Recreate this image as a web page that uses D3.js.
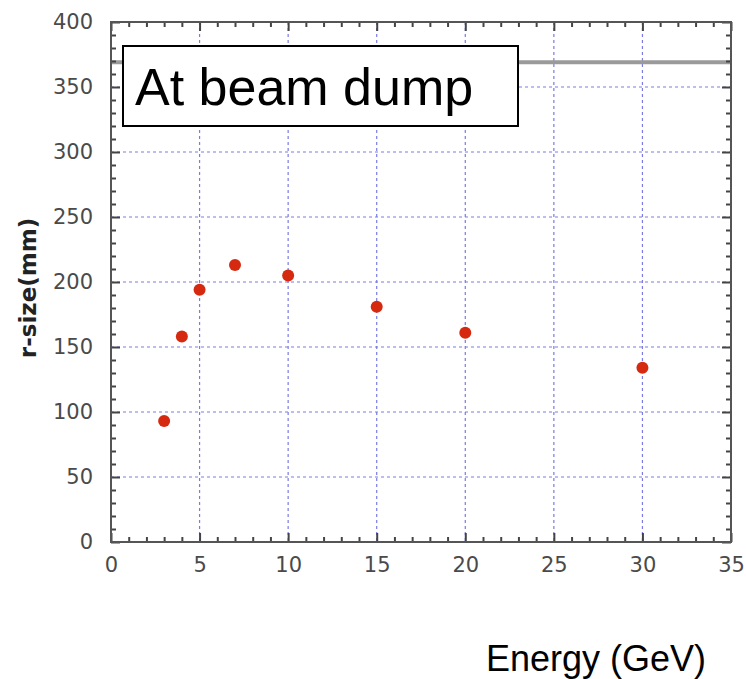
<!DOCTYPE html>
<html>
<head>
<meta charset="utf-8">
<script src="https://cdn.jsdelivr.net/npm/d3@7/dist/d3.min.js"></script>
<style>
  html, body { margin: 0; padding: 0; background: #fff; }
  svg { display: block; }
</style>
</head>
<body>
<svg id="chart" width="746" height="679"></svg>
<script>
// ---- data ----
const energies = [3, 4, 5, 7, 10, 15, 20, 30];
const rSizes   = [93, 158, 194, 213, 205, 181, 161, 134];
const xTicks = [0, 5, 10, 15, 20, 25, 30, 35];
const yTicks = [0, 50, 100, 150, 200, 250, 300, 350, 400];
const refLine = [369];
const boxLabel = "At beam dump";
const xTitle = "Energy (GeV)";
const yTitle = "r-size(mm)";

// ---- layout ----
const W = 746, H = 679;
const m = { left: 111, right: 15, top: 22, bottom: 137 };
const svg = d3.select("#chart");

const x = d3.scaleLinear().domain([0, 35]).range([m.left, W - m.right]);
const y = d3.scaleLinear().domain([0, 400]).range([H - m.bottom, m.top]);
const x0 = x.range()[0], x1 = x.range()[1];
const y0 = y.range()[0], y1 = y.range()[1];

const xMinor = d3.range(0, 35.01, 1).filter(v => v % 5 !== 0);
const yMinor = d3.range(0, 400.01, 10).filter(v => v % 50 !== 0);

// grid lines
const grid = svg.append("g").attr("stroke", "#6c6ee0").attr("stroke-width", 1.2)
  .attr("stroke-dasharray", "3,3").attr("opacity", 0.9);
grid.selectAll(".gx").data(xTicks.filter(v => v > 0 && v < 35)).join("line")
  .attr("x1", d => x(d)).attr("x2", d => x(d)).attr("y1", y1).attr("y2", y0);
grid.selectAll(".gy").data(yTicks.filter(v => v > 0 && v < 400)).join("line")
  .attr("y1", d => y(d)).attr("y2", d => y(d)).attr("x1", x0).attr("x2", x1);

// gray reference line
svg.append("g").selectAll("line").data(refLine).join("line")
  .attr("x1", x0).attr("x2", x1).attr("y1", d => y(d)).attr("y2", d => y(d))
  .attr("stroke", "#9a9a9a").attr("stroke-width", 4);

// axes (ticks inward on all four sides)
function styleAxis(g) {
  g.select(".domain").remove();
  g.selectAll(".tick line").attr("stroke", "#444").attr("stroke-width", 2);
  g.selectAll(".tick text").attr("fill", "#4a4a4a")
    .style("font-family", "'DejaVu Sans', sans-serif").style("font-size", "21px");
}
const major = 9, minor = 5;
svg.append("g").attr("transform", `translate(0,${y0})`)
  .call(d3.axisBottom(x).tickValues(xTicks).tickFormat(d3.format("d")).tickSize(-major).tickPadding(15))
  .call(styleAxis);
svg.append("g").attr("transform", `translate(0,${y0})`)
  .call(d3.axisBottom(x).tickValues(xMinor).tickFormat("").tickSize(-minor)).call(styleAxis);
svg.append("g").attr("transform", `translate(0,${y1})`)
  .call(d3.axisTop(x).tickValues(xTicks).tickFormat("").tickSize(-major)).call(styleAxis);
svg.append("g").attr("transform", `translate(0,${y1})`)
  .call(d3.axisTop(x).tickValues(xMinor).tickFormat("").tickSize(-minor)).call(styleAxis);
svg.append("g").attr("transform", `translate(${x0},0)`)
  .call(d3.axisLeft(y).tickValues(yTicks).tickFormat(d3.format("d")).tickSize(-major).tickPadding(18))
  .call(styleAxis);
svg.append("g").attr("transform", `translate(${x0},0)`)
  .call(d3.axisLeft(y).tickValues(yMinor).tickFormat("").tickSize(-minor)).call(styleAxis);
svg.append("g").attr("transform", `translate(${x1},0)`)
  .call(d3.axisRight(y).tickValues(yTicks).tickFormat("").tickSize(-major)).call(styleAxis);
svg.append("g").attr("transform", `translate(${x1},0)`)
  .call(d3.axisRight(y).tickValues(yMinor).tickFormat("").tickSize(-minor)).call(styleAxis);

// frame
svg.append("rect").attr("x", x0).attr("y", y1).attr("width", x1 - x0).attr("height", y0 - y1)
  .attr("fill", "none").attr("stroke", "#555").attr("stroke-width", 2);

// label box
const bx = 123, by = 46, bw = 395, bh = 80;
svg.append("rect").attr("x", bx).attr("y", by).attr("width", bw).attr("height", bh)
  .attr("fill", "#fff").attr("stroke", "#000").attr("stroke-width", 2);
svg.append("text").attr("x", 135).attr("y", 105).text(boxLabel)
  .attr("fill", "#000").style("font-family", "'Liberation Sans', Arial, sans-serif").style("font-size", "52px");

// points
const pts = energies.map((e, i) => ({ e, r: rSizes[i] }));
svg.append("g").selectAll("circle").data(pts).join("circle")
  .attr("cx", d => x(d.e)).attr("cy", d => y(d.r)).attr("r", 6)
  .attr("fill", "#d62a10");

// titles
svg.append("text").attr("transform", `translate(36,${288}) rotate(-90)`)
  .attr("text-anchor", "middle").text(yTitle)
  .attr("fill", "#222").style("font-family", "'DejaVu Sans', sans-serif")
  .style("font-size", "23px").style("font-weight", "bold");
svg.append("text").attr("x", 596).attr("y", 671).attr("text-anchor", "middle").text(xTitle)
  .attr("fill", "#000").style("font-family", "'Liberation Sans', Arial, sans-serif").style("font-size", "36px");
</script>
</body>
</html>
